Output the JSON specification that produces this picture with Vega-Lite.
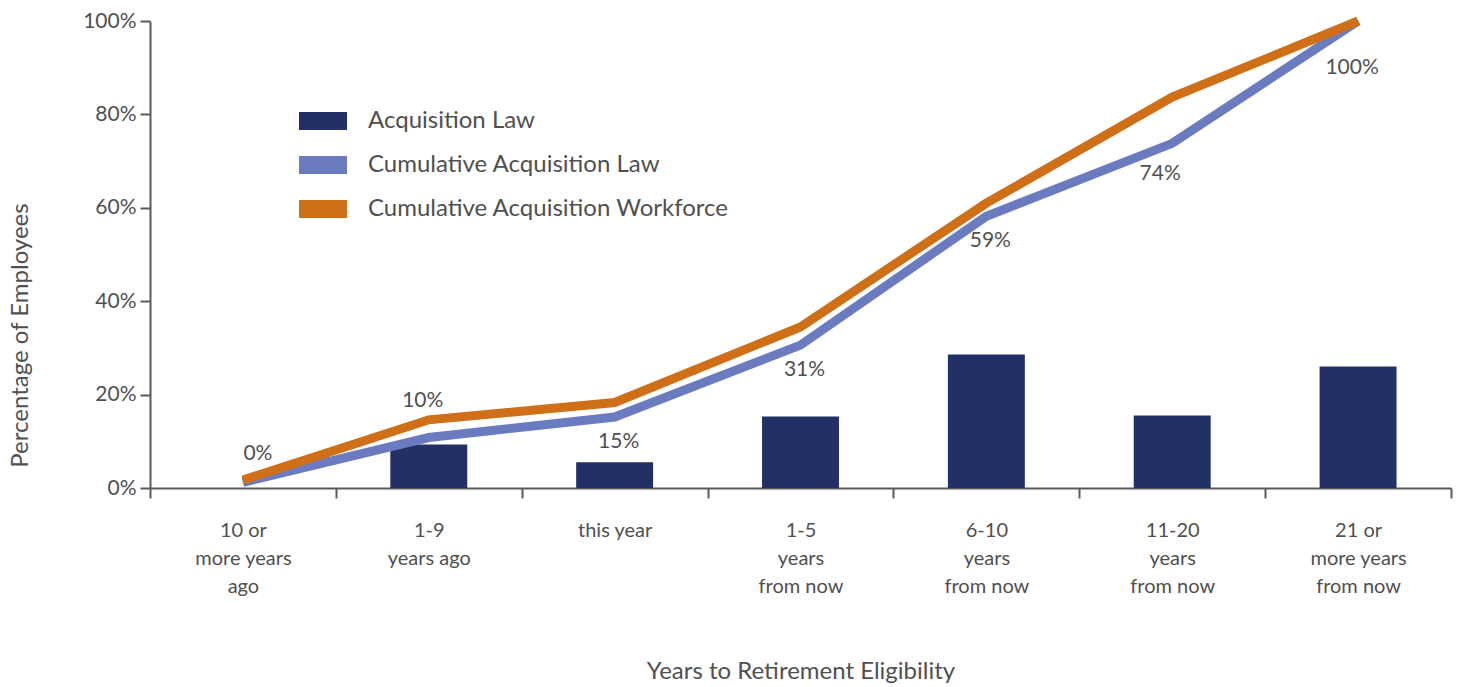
{
  "$schema": "https://vega.github.io/schema/vega-lite/v6.json",
  "autosize": "none",
  "width": 1301,
  "height": 467,
  "padding": {"left": 150, "top": 21, "right": 13, "bottom": 199},
  "background": "white",
  "config": {
    "view": {"stroke": null},
    "font": "Lato",
    "axis": {"labelFont": "Lato", "titleFont": "Lato", "labelColor": "#505050", "titleColor": "#505050", "domainColor": "#5a5a5a", "tickColor": "#5a5a5a", "domainWidth": 2, "tickWidth": 2, "grid": false, "titleFontWeight": "normal"}
  },
  "data": {"values": [
    {"category": "10 or more years ago", "law": 0, "cumLaw": 0.012, "cumWorkforce": 0.017, "label": "0%"},
    {"category": "1-9 years ago", "law": 0.093, "cumLaw": 0.108, "cumWorkforce": 0.146, "label": "10%"},
    {"category": "this year", "law": 0.055, "cumLaw": 0.152, "cumWorkforce": 0.183, "label": "15%"},
    {"category": "1-5 years from now", "law": 0.153, "cumLaw": 0.306, "cumWorkforce": 0.345, "label": "31%"},
    {"category": "6-10 years from now", "law": 0.286, "cumLaw": 0.582, "cumWorkforce": 0.61, "label": "59%"},
    {"category": "11-20 years from now", "law": 0.155, "cumLaw": 0.738, "cumWorkforce": 0.837, "label": "74%"},
    {"category": "21 or more years from now", "law": 0.26, "cumLaw": 1.0, "cumWorkforce": 1.0, "label": "100%"}
  ]},
  "encoding": {
    "x": {
      "field": "category", "type": "nominal", "sort": null,
      "scale": {"paddingInner": 0, "paddingOuter": 0},
      "axis": {
        "title": "Years to Retirement Eligibility", "titleFontSize": 24, "titlePadding": 63,
        "labelAngle": 0, "labelFontSize": 20, "labelLineHeight": 28, "labelPadding": 22, "labelBaseline": "top",
        "tickBand": "extent", "tickSize": 10,
        "labelExpr": "datum.value == '10 or more years ago' ? ['10 or', 'more years', 'ago'] : datum.value == '1-9 years ago' ? ['1-9', 'years ago'] : datum.value == '1-5 years from now' ? ['1-5', 'years', 'from now'] : datum.value == '6-10 years from now' ? ['6-10', 'years', 'from now'] : datum.value == '11-20 years from now' ? ['11-20', 'years', 'from now'] : datum.value == '21 or more years from now' ? ['21 or', 'more years', 'from now'] : datum.value"
      }
    }
  },
  "layer": [
    {
      "mark": {"type": "bar", "width": {"band": 0.414}},
      "encoding": {
        "y": {"field": "law", "type": "quantitative", "scale": {"domain": [0, 1]},
          "axis": {"title": "Percentage of Employees", "titleFontSize": 24, "titleX": -118, "titleY": 314, "format": ".0%", "values": [0, 0.2, 0.4, 0.6, 0.8, 1], "labelFontSize": 21, "tickSize": 10, "labelPadding": 4}},
        "color": {"datum": "Acquisition Law", "type": "nominal",
          "scale": {"domain": ["Acquisition Law", "Cumulative Acquisition Law", "Cumulative Acquisition Workforce"], "range": ["#223065", "#6b7bbf", "#cf6f18"]},
          "legend": {
            "title": null, "orient": "none", "legendX": 149, "legendY": 76,
            "labelFontSize": 24, "labelColor": "#505050", "labelFont": "Lato", "labelLimit": 0,
            "symbolType": "M-1,-0.375H1V0.375H-1Z", "symbolSize": 2304, "labelOffset": 21, "rowPadding": 8,
            "encode": {"symbols": {"update": {"fill": {"scale": "color", "field": "value"}, "strokeWidth": {"value": 0}, "opacity": {"value": 1}}}}
          }
        }
      }
    },
    {
      "mark": {"type": "line", "strokeWidth": 9, "strokeCap": "butt", "strokeJoin": "miter"},
      "encoding": {
        "y": {"field": "cumLaw", "type": "quantitative"},
        "color": {"datum": "Cumulative Acquisition Law", "type": "nominal"}
      }
    },
    {
      "mark": {"type": "line", "strokeWidth": 9, "strokeCap": "butt", "strokeJoin": "miter"},
      "encoding": {
        "y": {"field": "cumWorkforce", "type": "quantitative"},
        "color": {"datum": "Cumulative Acquisition Workforce", "type": "nominal"}
      }
    },
    {
      "transform": [{"filter": "datum.category == '10 or more years ago'"}],
      "mark": {"type": "text", "fontSize": 21, "color": "#505050", "dx": 15, "dy": -28},
      "encoding": {"y": {"field": "cumLaw", "type": "quantitative"}, "text": {"field": "label"}}
    },
    {
      "transform": [{"filter": "datum.category == '1-9 years ago'"}],
      "mark": {"type": "text", "fontSize": 21, "color": "#505050", "dx": -6, "dy": -37},
      "encoding": {"y": {"field": "cumLaw", "type": "quantitative"}, "text": {"field": "label"}}
    },
    {
      "transform": [{"filter": "indexof(['this year', '1-5 years from now', '6-10 years from now'], datum.category) >= 0"}],
      "mark": {"type": "text", "fontSize": 21, "color": "#505050", "dx": 4, "dy": 25},
      "encoding": {"y": {"field": "cumLaw", "type": "quantitative"}, "text": {"field": "label"}}
    },
    {
      "transform": [{"filter": "datum.category == '11-20 years from now'"}],
      "mark": {"type": "text", "fontSize": 21, "color": "#505050", "dx": -12, "dy": 31},
      "encoding": {"y": {"field": "cumLaw", "type": "quantitative"}, "text": {"field": "label"}}
    },
    {
      "transform": [{"filter": "datum.category == '21 or more years from now'"}],
      "mark": {"type": "text", "fontSize": 21, "color": "#505050", "dx": -6, "dy": 47},
      "encoding": {"y": {"field": "cumLaw", "type": "quantitative"}, "text": {"field": "label"}}
    }
  ]
}
